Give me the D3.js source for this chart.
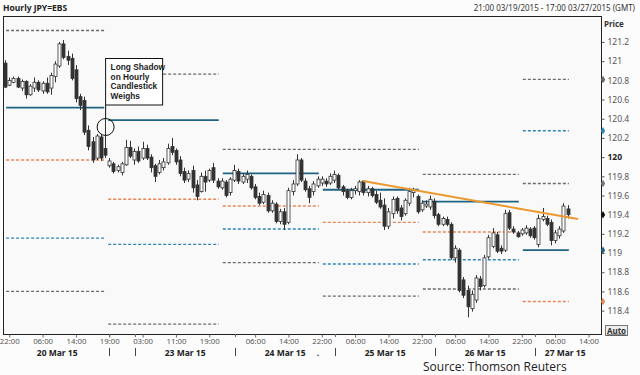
<!DOCTYPE html>
<html>
<head>
<meta charset="utf-8">
<script src="https://cdnjs.cloudflare.com/ajax/libs/d3/7.8.5/d3.min.js"></script>
<style>
  body { margin: 0; background: #fff; }
  svg { font-family: "Noto Sans", "DejaVu Sans", sans-serif; }
</style>
</head>
<body>
<div id="chart"></div>
<script>
// hourly candles, [open, high, low, close], 21:00 19 Mar -> 10:00 27 Mar (weekend removed)
var candles = [
  [120.98, 121.01, 120.72, 120.73], [120.75, 120.83, 120.74, 120.80], [120.78, 120.84, 120.77, 120.82],
  [120.82, 120.84, 120.72, 120.73], [120.72, 120.81, 120.69, 120.79], [120.79, 120.80, 120.61, 120.65],
  [120.65, 120.76, 120.64, 120.74], [120.72, 120.83, 120.68, 120.78], [120.78, 120.80, 120.68, 120.70],
  [120.69, 120.79, 120.66, 120.77], [120.77, 120.83, 120.66, 120.68], [120.72, 120.88, 120.65, 120.85],
  [120.84, 121.00, 120.78, 120.97], [120.95, 121.20, 120.93, 121.18], [121.18, 121.22, 121.02, 121.04],
  [121.05, 121.11, 120.96, 121.01], [121.03, 121.08, 120.80, 120.82], [120.91, 120.96, 120.57, 120.61],
  [120.63, 120.66, 120.49, 120.54], [120.59, 120.63, 120.23, 120.26], [120.28, 120.33, 120.07, 120.11],
  [120.16, 120.21, 119.94, 119.97], [119.99, 120.24, 119.97, 120.22], [120.21, 120.24, 119.96, 119.99],
  [120.09, 120.41, 119.99, 120.02], [119.91, 119.99, 119.89, 119.96], [119.93, 119.95, 119.83, 119.85],
  [119.86, 119.92, 119.84, 119.90], [119.84, 119.95, 119.81, 119.93], [119.92, 120.18, 119.91, 120.10],
  [120.10, 120.17, 119.99, 120.01], [119.97, 120.09, 119.92, 120.06], [120.06, 120.11, 119.94, 119.96],
  [119.99, 120.16, 119.97, 120.09], [120.09, 120.13, 119.97, 119.99], [120.00, 120.03, 119.84, 119.89],
  [119.91, 119.93, 119.74, 119.80], [119.84, 119.97, 119.82, 119.93], [119.89, 119.99, 119.86, 119.95],
  [119.94, 120.14, 119.92, 120.09], [120.11, 120.20, 120.02, 120.05], [120.07, 120.09, 119.92, 119.95],
  [119.97, 120.01, 119.80, 119.83], [119.85, 119.89, 119.73, 119.76], [119.77, 119.86, 119.74, 119.83],
  [119.86, 119.91, 119.63, 119.68], [119.71, 119.76, 119.55, 119.59], [119.64, 119.84, 119.63, 119.80],
  [119.80, 119.86, 119.64, 119.74], [119.76, 119.88, 119.74, 119.86], [119.89, 119.94, 119.73, 119.76],
  [119.75, 119.78, 119.67, 119.69], [119.68, 119.78, 119.66, 119.75], [119.74, 119.76, 119.58, 119.60],
  [119.63, 119.79, 119.60, 119.77], [119.76, 119.92, 119.74, 119.86], [119.85, 119.88, 119.72, 119.75],
  [119.74, 119.83, 119.72, 119.80], [119.77, 119.86, 119.73, 119.82], [119.80, 119.82, 119.66, 119.68],
  [119.69, 119.72, 119.56, 119.58], [119.59, 119.63, 119.50, 119.52], [119.53, 119.65, 119.51, 119.61],
  [119.60, 119.63, 119.42, 119.44], [119.44, 119.55, 119.42, 119.52], [119.51, 119.53, 119.31, 119.33],
  [119.33, 119.46, 119.30, 119.43], [119.43, 119.47, 119.24, 119.30], [119.32, 119.68, 119.30, 119.65],
  [119.64, 119.76, 119.60, 119.72], [119.72, 120.03, 119.70, 119.97], [119.97, 119.99, 119.74, 119.76],
  [119.75, 119.78, 119.64, 119.66], [119.67, 119.70, 119.52, 119.58], [119.64, 119.75, 119.60, 119.72],
  [119.70, 119.80, 119.68, 119.77], [119.73, 119.80, 119.70, 119.77], [119.75, 119.78, 119.69, 119.72],
  [119.73, 119.83, 119.71, 119.80], [119.76, 119.86, 119.73, 119.82], [119.81, 119.83, 119.66, 119.68],
  [119.69, 119.71, 119.60, 119.64], [119.65, 119.67, 119.56, 119.58], [119.58, 119.68, 119.56, 119.65],
  [119.65, 119.70, 119.61, 119.67], [119.64, 119.76, 119.60, 119.74], [119.75, 119.76, 119.60, 119.63],
  [119.63, 119.70, 119.59, 119.67], [119.67, 119.69, 119.58, 119.60], [119.61, 119.65, 119.51, 119.53],
  [119.55, 119.63, 119.46, 119.48], [119.50, 119.57, 119.24, 119.28], [119.28, 119.47, 119.25, 119.43],
  [119.41, 119.59, 119.36, 119.56], [119.57, 119.59, 119.41, 119.44], [119.47, 119.50, 119.34, 119.38],
  [119.41, 119.57, 119.39, 119.55], [119.52, 119.68, 119.49, 119.64], [119.63, 119.68, 119.58, 119.65],
  [119.59, 119.61, 119.41, 119.43], [119.45, 119.55, 119.43, 119.52], [119.49, 119.55, 119.47, 119.51],
  [119.48, 119.60, 119.45, 119.56], [119.54, 119.57, 119.36, 119.39], [119.40, 119.42, 119.28, 119.30],
  [119.30, 119.38, 119.28, 119.36], [119.35, 119.38, 119.28, 119.30], [119.30, 119.32, 118.93, 118.95],
  [118.95, 119.08, 118.90, 119.05], [119.03, 119.05, 118.59, 118.61], [118.72, 118.75, 118.53, 118.56],
  [118.61, 118.66, 118.33, 118.44], [118.42, 118.61, 118.39, 118.57], [118.51, 118.77, 118.48, 118.74],
  [118.73, 118.76, 118.61, 118.65], [118.66, 118.98, 118.64, 118.95], [118.96, 119.19, 118.94, 119.16],
  [119.07, 119.26, 119.05, 119.21], [119.19, 119.22, 119.00, 119.02], [119.05, 119.08, 118.99, 119.02],
  [119.03, 119.45, 119.01, 119.41], [119.42, 119.45, 119.24, 119.26], [119.25, 119.28, 119.20, 119.22],
  [119.21, 119.23, 119.16, 119.17], [119.20, 119.26, 119.18, 119.24], [119.21, 119.29, 119.19, 119.26],
  [119.25, 119.27, 119.16, 119.18], [119.26, 119.28, 119.14, 119.16], [119.09, 119.40, 119.06, 119.36],
  [119.35, 119.47, 119.33, 119.38], [119.36, 119.39, 119.28, 119.30], [119.32, 119.35, 119.08, 119.13],
  [119.13, 119.24, 119.10, 119.21], [119.18, 119.28, 119.15, 119.25], [119.23, 119.52, 119.21, 119.49],
  [119.46, 119.50, 119.36, 119.40]
];

// daily level periods (bar index where each day's levels start / stop)
var periodBounds = [0, 24.5, 52, 76, 100, 124, 136];
var upperGray  = [121.32, 120.865, 120.08, 120.08, 119.82, 120.81];
var pivotLine  = [120.515, 120.385, 119.83, 119.66, 119.535, 119.03];
var orangeLine = [119.97, 119.56, 119.49, 119.32, 119.22, 118.495];
var blueLine   = [119.155, 119.09, 119.25, 118.885, 118.93, 120.275];
var lowerGray  = [118.60, 118.26, 118.90, 118.55, 118.625, 119.725];

// trend line: [bar index, price]
var trendStart = [85.9, 119.75];
var trendEnd = [137.5, 119.354];

// x axis
var tickIdx = [1, 9, 17, 25, 33, 41, 49, 60, 68, 76, 84, 92, 100, 108, 116, 124, 132, 140];
var tickLabels = ["22:00", "06:00", "14:00", "19:00", "03:00", "11:00", "19:00", "06:00", "14:00",
  "22:00", "06:00", "14:00", "22:00", "06:00", "14:00", "22:00", "06:00", "14:00"];
var dayBreaks = [25, 31.2, 55.2, 79.2, 103.2, 127.2];
var dateLabels = ["20 Mar 15", "23 Mar 15", "24 Mar 15", "25 Mar 15", "26 Mar 15", "27 Mar 15"];
var dateSpans = [[0, 25], [31.2, 55.2], [55.2, 79.2], [79.2, 103.2], [103.2, 127.2], [127.2, 141.6]];

// y axis
var priceTicks = [118.4, 118.6, 118.8, 119, 119.2, 119.4, 119.6, 119.8, 120, 120.2, 120.4, 120.6, 120.8, 121, 121.2];

var svgWidth = 640;
var svgHeight = 375;
var plot = { left: 3, right: 601, top: 16, bottom: 334 };

var svg = d3.select("#chart")
  .append("svg")
  .attr("width", svgWidth)
  .attr("height", svgHeight);

svg.append("rect").attr("width", svgWidth).attr("height", svgHeight).attr("fill", "#fcfcfc");

var xScale = d3.scaleLinear().domain([0, 140]).range([5.1, 588.5]);
var yScale = d3.scaleLinear().domain([118.4, 121.2]).range([310.6, 42]);

// plot box
svg.append("rect")
  .attr("x", plot.left + 0.5)
  .attr("y", plot.top + 0.5)
  .attr("width", plot.right - plot.left)
  .attr("height", plot.bottom - plot.top)
  .attr("fill", "#f9f9f9")
  .attr("stroke", "#222")
  .attr("stroke-width", 1);

// header
svg.append("text")
  .attr("x", 3).attr("y", 11)
  .attr("font-size", "8.5px").attr("font-weight", "bold").attr("fill", "#222")
  .text("Hourly JPY=EBS");
svg.append("text")
  .attr("x", 635).attr("y", 11)
  .attr("text-anchor", "end")
  .attr("font-size", "8px").attr("fill", "#333")
  .text("21:00 03/19/2015 - 17:00 03/27/2015 (GMT)");

// level lines, one set per period
var levelSets = [
  { vals: upperGray, color: "#6b6b6b", dash: "3,2", width: 1.3 },
  { vals: lowerGray, color: "#6b6b6b", dash: "3,2", width: 1.3 },
  { vals: blueLine, color: "#2f86b6", dash: "3,2", width: 1.4 },
  { vals: orangeLine, color: "#ea8555", dash: "3,2", width: 1.4 },
  { vals: pivotLine, color: "#1f6382", dash: null, width: 1.8 }
];

var levelGroup = svg.append("g");
levelSets.forEach(function(set) {
  levelGroup.selectAll(null)
    .data(set.vals)
    .enter()
    .append("line")
    .attr("x1", (d, i) => xScale(periodBounds[i]) + 1)
    .attr("x2", (d, i) => xScale(periodBounds[i + 1]) - 3)
    .attr("y1", d => yScale(d))
    .attr("y2", d => yScale(d))
    .attr("stroke", set.color)
    .attr("stroke-width", set.width)
    .attr("stroke-dasharray", set.dash);
});

// candles
var candleGroup = svg.append("g");
var bodyW = 3;

candleGroup.selectAll(".wick")
  .data(candles)
  .enter()
  .append("line")
  .attr("class", "wick")
  .attr("x1", (d, i) => Math.round(xScale(i)) + 0.5)
  .attr("x2", (d, i) => Math.round(xScale(i)) + 0.5)
  .attr("y1", d => yScale(d[1]))
  .attr("y2", d => yScale(d[2]))
  .attr("stroke", "#333")
  .attr("stroke-width", 1);

candleGroup.selectAll(".body")
  .data(candles)
  .enter()
  .append("rect")
  .attr("class", "body")
  .attr("x", (d, i) => Math.round(xScale(i)) + 0.5 - bodyW / 2)
  .attr("y", d => yScale(Math.max(d[0], d[3])))
  .attr("width", bodyW)
  .attr("height", d => Math.max(1, Math.abs(yScale(d[0]) - yScale(d[3]))))
  .attr("fill", d => d[3] >= d[0] ? "#fff" : "#333")
  .attr("stroke", "#333")
  .attr("stroke-width", 0.8);

// trend line
svg.append("line")
  .attr("x1", xScale(trendStart[0])).attr("y1", yScale(trendStart[1]))
  .attr("x2", xScale(trendEnd[0])).attr("y2", yScale(trendEnd[1]))
  .attr("stroke", "#eb982f")
  .attr("stroke-width", 2);

// annotation
var noteX = xScale(24) + 0.5;
svg.append("line")
  .attr("x1", noteX).attr("x2", noteX)
  .attr("y1", 105).attr("y2", 118.5)
  .attr("stroke", "#111").attr("stroke-width", 1);
svg.append("circle")
  .attr("cx", noteX).attr("cy", 127)
  .attr("r", 8.5)
  .attr("fill", "none").attr("stroke", "#111").attr("stroke-width", 1);
svg.append("rect")
  .attr("x", noteX).attr("y", 58.5)
  .attr("width", 57).attr("height", 46.5)
  .attr("fill", "#fff").attr("stroke", "#111").attr("stroke-width", 1);
var noteLines = ["Long Shadow", "on Hourly", "Candlestick", "Weighs"];
svg.append("g").selectAll("text")
  .data(noteLines)
  .enter()
  .append("text")
  .attr("x", noteX + 5)
  .attr("y", (d, i) => 70 + i * 9.5)
  .style("font-family", "'Liberation Sans', Arial, sans-serif")
  .attr("font-size", "8.3px")
  .attr("font-weight", "bold")
  .attr("fill", "#222")
  .text(d => d);

// right price axis
var yAxis = d3.axisRight(yScale)
  .tickValues(priceTicks)
  .tickSize(3)
  .tickPadding(3)
  .tickFormat(d => String(+d.toFixed(1)));

var yAxisG = svg.append("g")
  .attr("transform", `translate(${plot.right + 0.5}, 0)`)
  .call(yAxis);
yAxisG.attr("font-family", null);
yAxisG.select(".domain").remove();
yAxisG.selectAll("line").attr("stroke", "#555");
yAxisG.selectAll("text")
  .attr("font-size", "8.5px")
  .attr("font-weight", d => d === 120 ? "bold" : "normal")
  .style("fill", d => d === 120 ? "#222" : "#555");

svg.append("text")
  .attr("x", 604).attr("y", 27)
  .attr("font-size", "8px").attr("font-weight", "bold").attr("fill", "#333")
  .text("Price");

// level markers on the price axis (latest period + last close)
var lastP = periodBounds.length - 2;
var markers = [
  { v: upperGray[lastP], c: "#666" },
  { v: blueLine[lastP], c: "#2f86b6" },
  { v: lowerGray[lastP], c: "#777" },
  { v: pivotLine[lastP], c: "#1f6382" },
  { v: orangeLine[lastP], c: "#ea8555" },
  { v: candles[candles.length - 1][3], c: "#111" }
];
svg.append("g").selectAll("path")
  .data(markers)
  .enter()
  .append("path")
  .attr("d", d3.symbol(d3.symbolDiamond).size(16))
  .attr("transform", d => `translate(${plot.right + 2}, ${yScale(d.v)})`)
  .attr("fill", d => d.c);

// Auto button
svg.append("rect")
  .attr("x", 605.5).attr("y", 325.5)
  .attr("width", 22).attr("height", 10)
  .attr("fill", "#eee").attr("stroke", "#777");
svg.append("text")
  .attr("x", 616.5).attr("y", 333.5)
  .attr("text-anchor", "middle")
  .attr("font-size", "8px").attr("font-weight", "bold").attr("fill", "#333")
  .attr("text-decoration", "underline")
  .text("Auto");

// bottom time axis
var xAxis = d3.axisBottom(xScale)
  .tickValues(tickIdx)
  .tickSize(3)
  .tickPadding(1)
  .tickFormat((d, i) => tickLabels[i]);

var xAxisG = svg.append("g")
  .attr("transform", `translate(0, ${plot.bottom + 0.5})`)
  .call(xAxis);
xAxisG.attr("font-family", null);
xAxisG.select(".domain").remove();
xAxisG.selectAll("line").attr("stroke", "#666");
xAxisG.selectAll("text").attr("font-size", "7.8px").attr("fill", "#555");

// day break ticks and separators
svg.append("g").selectAll("line")
  .data(dayBreaks)
  .enter()
  .append("line")
  .attr("x1", d => Math.round(xScale(d)) + 0.5)
  .attr("x2", d => Math.round(xScale(d)) + 0.5)
  .attr("y1", plot.bottom)
  .attr("y2", plot.bottom + 3)
  .attr("stroke", "#666");

svg.append("g").selectAll("line")
  .data(dayBreaks)
  .enter()
  .append("line")
  .attr("x1", d => Math.round(xScale(d)) + 0.5)
  .attr("x2", d => Math.round(xScale(d)) + 0.5)
  .attr("y1", 348)
  .attr("y2", 356)
  .attr("stroke", "#444");

svg.append("g").selectAll("text")
  .data(dateLabels)
  .enter()
  .append("text")
  .attr("x", (d, i) => xScale((dateSpans[i][0] + dateSpans[i][1]) / 2))
  .attr("y", 356)
  .attr("text-anchor", "middle")
  .attr("font-size", "8.5px")
  .attr("font-weight", "bold")
  .attr("fill", "#222")
  .text(d => d);

svg.append("text")
  .attr("x", xScale(75.1)).attr("y", 356)
  .attr("text-anchor", "middle")
  .attr("font-size", "8.5px").attr("font-weight", "bold").attr("fill", "#333")
  .text(".");

// source
svg.append("text")
  .attr("x", 423).attr("y", 371)
  .style("font-family", "'Open Sans', sans-serif")
  .attr("font-size", "12px").attr("fill", "#222")
  .text("Source: Thomson Reuters");
</script>
</body>
</html>
